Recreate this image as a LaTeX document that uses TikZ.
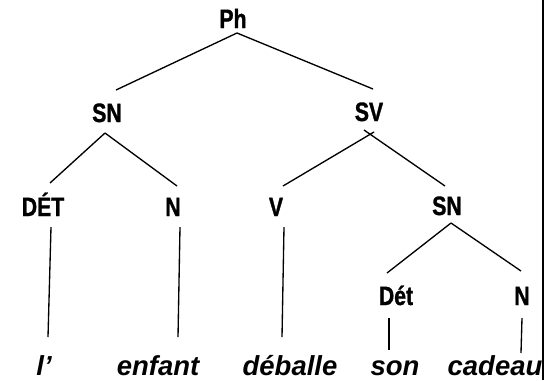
\documentclass[tikz,border=0pt]{standalone}
\usepackage{fontspec}
\usetikzlibrary{calc}
\newfontfamily\labfont[FakeStretch=0.8,FakeBold=1.2]{Liberation Sans Bold}
\newfontfamily\wordfont{Liberation Sans Bold Italic}
\begin{document}
\begin{tikzpicture}[x=0.75pt,y=-0.75pt,
  lab/.style={inner sep=0pt,anchor=base,font=\labfont\fontsize{19.9pt}{22pt}\selectfont},
  word/.style={inner sep=0pt,anchor=base,font=\wordfont\fontsize{20.6pt}{23pt}\selectfont},
  branch/.style={line width=1pt,black}]
\fill[white] (0,0) rectangle (560,380);
\useasboundingbox (0,0) rectangle (560,380);
% nodes
\node[lab] (Ph) at (233,28) {Ph};
\node[lab] (SN1) at (107,122) {SN};
\node[lab] (SV) at (369,121) {SV};
\node[lab] (DET) at (43,216) {DÉT};
\node[lab] (N1) at (173,216) {N};
\node[lab] (V) at (276,216) {V};
\node[lab] (SN2) at (447,215) {SN};
\node[lab] (Det) at (396,305) {Dét};
\node[lab] (N2) at (522,305) {N};
\node[word] (w1) at (44,375) {l’};
\node[word] (w2) at (158,375) {enfant};
\node[word] (w3) at (290,375) {déballe};
\node[word] (w4) at (395,375) {son};
\node[word] (w5) at (495,375) {cadeau};
% branches
\draw[branch] ($(Ph.base)+(4,5)$) -- ($(SN1.base)+(9,-32)$);
\draw[branch] ($(Ph.base)+(4,5)$) -- ($(SV.base)+(4,-32)$);
\draw[branch] ($(SN1.base)+(-2,11)$) -- ($(DET.base)+(7,-33)$);
\draw[branch] ($(SN1.base)+(-2,11)$) -- ($(N1.base)+(4,-30)$);
\draw[branch] ($(SV.base)+(5,11)$) -- ($(V.base)+(7,-30)$);
\draw[branch] ($(SV.base)+(-5,9)$) -- ($(SN2.base)+(-2,-29)$);
\draw[branch] ($(DET.base)+(8,11)$) -- ($(w1.base)+(4,-38)$);
\draw[branch] ($(N1.base)+(7,11)$) -- ($(w2.base)+(20,-38)$);
\draw[branch] ($(V.base)+(8,11)$) -- ($(w3.base)+(-8,-38)$);
\draw[branch] ($(SN2.base)+(4,8)$) -- ($(Det.base)+(-9,-32)$);
\draw[branch] ($(SN2.base)+(4,8)$) -- ($(N2.base)+(-1,-34)$);
\draw[branch] ($(Det.base)+(-7,13)$) -- ($(w4.base)+(-6,-25)$);
\draw[branch] ($(N2.base)+(0,13)$) -- ($(w5.base)+(26,-22)$);
% right rule
\coordinate (rt) at (543,0);
\coordinate (rb) at (543,380);
\draw[line width=1.6pt,black] (rt) -- (rb);
\end{tikzpicture}
\end{document}
